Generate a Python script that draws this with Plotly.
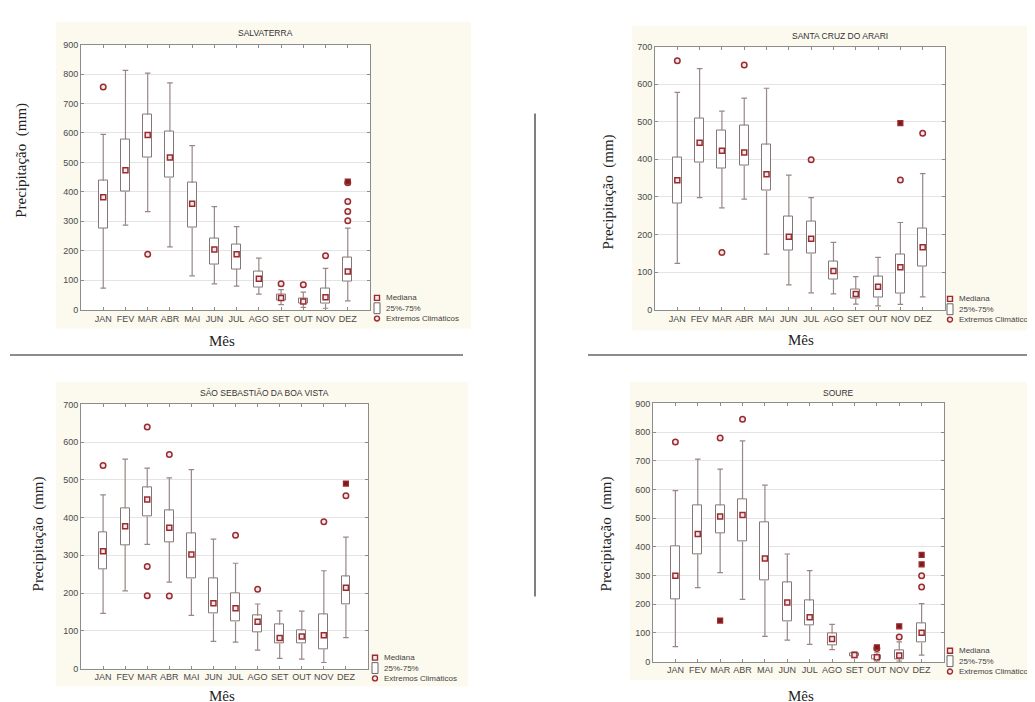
import plotly.graph_objects as go

MONTHS = ["JAN", "FEV", "MAR", "ABR", "MAI", "JUN", "JUL", "AGO", "SET", "OUT", "NOV", "DEZ"]

# ---------------- SALVATERRA ----------------
SALV_MED = [382, 473, 593, 517, 360, 204, 188, 105, 40, 28, 42, 130]
SALV_Q1 = [277, 400, 517, 447, 278, 154, 138, 76, 32, 20, 20, 97]
SALV_Q3 = [437, 578, 662, 606, 430, 242, 222, 130, 50, 37, 72, 177]
SALV_MIN = [73, 287, 333, 213, 115, 88, 80, 53, 17, 8, 5, 30]
SALV_MAX = [595, 812, 803, 770, 557, 350, 282, 175, 68, 60, 140, 277]
SALV_OUT_M = ["JAN", "MAR", "SET", "OUT", "NOV", "DEZ", "DEZ", "DEZ", "DEZ"]
SALV_OUT_V = [756, 188, 88, 85, 183, 431, 367, 333, 302]
SALV_EXT_M = ["DEZ"]
SALV_EXT_V = [435]

# ---------------- SANTA CRUZ DO ARARI ----------------
SCA_MED = [344, 444, 423, 418, 360, 194, 189, 103, 42, 61, 113, 166]
SCA_Q1 = [283, 391, 376, 383, 316, 158, 149, 81, 30, 32, 43, 115]
SCA_Q3 = [405, 509, 477, 490, 439, 247, 235, 128, 55, 88, 148, 217]
SCA_MIN = [123, 298, 271, 294, 148, 66, 45, 42, 15, 10, 14, 34]
SCA_MAX = [578, 641, 528, 563, 589, 358, 298, 179, 88, 139, 232, 362]
SCA_OUT_M = ["JAN", "MAR", "ABR", "JUL", "NOV", "DEZ"]
SCA_OUT_V = [662, 152, 651, 399, 345, 469]
SCA_EXT_M = ["NOV"]
SCA_EXT_V = [496]

# ---------------- SÃO SEBASTIÃO DA BOA VISTA ----------------
SSB_MED = [311, 377, 448, 373, 302, 173, 160, 124, 81, 85, 88, 214]
SSB_Q1 = [263, 327, 403, 335, 238, 146, 124, 97, 66, 66, 51, 169]
SSB_Q3 = [362, 425, 479, 419, 358, 239, 200, 140, 116, 101, 143, 243]
SSB_MIN = [146, 206, 329, 229, 141, 72, 70, 49, 27, 25, 16, 82]
SSB_MAX = [460, 555, 531, 505, 527, 343, 279, 171, 153, 152, 259, 348]
SSB_OUT_M = ["JAN", "MAR", "MAR", "MAR", "ABR", "ABR", "JUL", "AGO", "NOV", "DEZ"]
SSB_OUT_V = [538, 640, 270, 193, 567, 192, 353, 210, 389, 458]
SSB_EXT_M = ["DEZ"]
SSB_EXT_V = [490]

# ---------------- SOURE ----------------
SOU_MED = [299, 445, 506, 511, 359, 206, 155, 79, 23, 15, 21, 101]
SOU_Q1 = [218, 374, 448, 419, 283, 140, 127, 58, 17, 7, 9, 66]
SOU_Q3 = [403, 545, 544, 567, 487, 275, 212, 97, 29, 23, 40, 134]
SOU_MIN = [52, 258, 310, 217, 88, 75, 60, 42, 14, 2, 2, 23]
SOU_MAX = [596, 706, 671, 769, 615, 375, 317, 130, 34, 31, 69, 202]
SOU_OUT_M = ["JAN", "MAR", "ABR", "OUT", "NOV", "DEZ", "DEZ"]
SOU_OUT_V = [765, 779, 845, 46, 86, 299, 260]
SOU_EXT_M = ["MAR", "OUT", "NOV", "DEZ", "DEZ"]
SOU_EXT_V = [143, 50, 123, 372, 339]

TITLES = ["SALVATERRA", "SANTA CRUZ DO ARARI", "SÃO SEBASTIÃO DA BOA VISTA", "SOURE"]
Y_MAX = [900, 700, 700, 900]
LEG_LABELS = ["Mediana", "25%-75%", "Extremos Climáticos"]

STATIONS = [
    (SALV_MED, SALV_Q1, SALV_Q3, SALV_MIN, SALV_MAX, SALV_OUT_M, SALV_OUT_V, SALV_EXT_M, SALV_EXT_V),
    (SCA_MED, SCA_Q1, SCA_Q3, SCA_MIN, SCA_MAX, SCA_OUT_M, SCA_OUT_V, SCA_EXT_M, SCA_EXT_V),
    (SSB_MED, SSB_Q1, SSB_Q3, SSB_MIN, SSB_MAX, SSB_OUT_M, SSB_OUT_V, SSB_EXT_M, SSB_EXT_V),
    (SOU_MED, SOU_Q1, SOU_Q3, SOU_MIN, SOU_MAX, SOU_OUT_M, SOU_OUT_V, SOU_EXT_M, SOU_EXT_V),
]

W, H = 1035, 702

# layout geometry in pixels (page layout, not data)
GEOM = [
    dict(plot=(73, 362, 32, 301), bg=(48, 463, 9, 320), title=(257, 20), ylab=(14, 150),
         xlab=(214, 333), leg=(369, 376, 289)),
    dict(plot=(647, 937, 34, 301), bg=(624, 1035, 13, 322), title=(832, 23), ylab=(600, 182),
         xlab=(793, 332), leg=(942, 949, 290)),
    dict(plot=(73, 360, 397, 665), bg=(48, 460, 374, 683), title=(256, 385), ylab=(30, 529),
         xlab=(214, 693), leg=(367, 374, 654)),
    dict(plot=(645, 936, 396, 658), bg=(622, 1035, 374, 677), title=(830, 385), ylab=(598, 529),
         xlab=(793, 693), leg=(942, 949, 647)),
]


def px(x):
    return x / W


def py(y):
    return 1 - y / H


RED = "#9b2b30"
DARKRED = "#7d1a1c"
WHISK = "#9a8686"
BOXLINE = "#857777"
AXLINE = "#8c8c8c"
BG = "#fcf9ee"

fig = go.Figure()
shapes = []
annotations = []
layout_axes = {}

for i, (st, g) in enumerate(zip(STATIONS, GEOM)):
    med, q1, q3, lo, hi, om, ov, em, ev = st
    n = i + 1
    xa = "x" if n == 1 else f"x{n}"
    ya = "y" if n == 1 else f"y{n}"
    x0, x1, y0, y1 = g["plot"]

    # whiskers
    wx, wy = [], []
    for m, a, b, c, d in zip(MONTHS, lo, q1, q3, hi):
        wx += [m, m, None, m, m, None]
        wy += [a, b, None, c, d, None]
    fig.add_trace(go.Scatter(x=wx, y=wy, mode="lines", line=dict(color=WHISK, width=1.2),
                             xaxis=xa, yaxis=ya, showlegend=False, hoverinfo="skip"))
    # caps
    fig.add_trace(go.Scatter(x=MONTHS + MONTHS, y=lo + hi, mode="markers",
                             marker=dict(symbol="line-ew", size=4, line=dict(color=WHISK, width=1.2)),
                             xaxis=xa, yaxis=ya, showlegend=False, hoverinfo="skip"))
    # boxes
    fig.add_trace(go.Bar(x=MONTHS, y=[b - a for a, b in zip(q1, q3)], base=q1, width=0.4,
                         marker=dict(color="white", line=dict(color=BOXLINE, width=1)),
                         xaxis=xa, yaxis=ya, showlegend=False))
    # medians
    fig.add_trace(go.Scatter(x=MONTHS, y=med, mode="markers",
                             marker=dict(symbol="square", size=5, color="#f3e9e9",
                                         line=dict(color=RED, width=1.5)),
                             xaxis=xa, yaxis=ya, showlegend=False))
    # outliers
    fig.add_trace(go.Scatter(x=om, y=ov, mode="markers",
                             marker=dict(symbol="circle", size=5.5, color="#f3e9e9",
                                         line=dict(color=RED, width=1.5)),
                             xaxis=xa, yaxis=ya, showlegend=False))
    # extremes
    fig.add_trace(go.Scatter(x=em, y=ev, mode="markers",
                             marker=dict(symbol="square", size=5, color=DARKRED,
                                         line=dict(color=RED, width=1.2)),
                             xaxis=xa, yaxis=ya, showlegend=False))

    tick_font = dict(family="Liberation Sans, Arial", size=9, color="#4a4a4a")
    layout_axes["xaxis" if n == 1 else f"xaxis{n}"] = dict(
        domain=[px(x0), px(x1)], anchor=ya, type="category", categoryorder="array",
        categoryarray=MONTHS, range=[-1, 12], showline=True, linecolor=AXLINE, linewidth=1,
        mirror="ticks", ticks="inside", ticklen=3, tickcolor=AXLINE, showgrid=False,
        tickangle=0, tickfont=tick_font, fixedrange=True)
    layout_axes["yaxis" if n == 1 else f"yaxis{n}"] = dict(
        domain=[py(y1), py(y0)], anchor=xa, range=[0, Y_MAX[i]], dtick=100,
        showline=True, linecolor=AXLINE, linewidth=1, mirror="ticks", ticks="inside",
        ticklen=3, tickcolor=AXLINE, showgrid=True, gridcolor="#e4e4e4", zeroline=False,
        tickfont=tick_font, fixedrange=True)

    # beige panel background
    bx0, bx1, by0, by1 = g["bg"]
    shapes.append(dict(type="rect", xref="paper", yref="paper", x0=px(bx0), x1=px(bx1),
                       y0=py(by1), y1=py(by0), fillcolor=BG, line=dict(width=0), layer="below"))
    # white plot area
    shapes.append(dict(type="rect", xref="paper", yref="paper", x0=px(x0), x1=px(x1),
                       y0=py(y1), y1=py(y0), fillcolor="white", line=dict(width=0), layer="below"))

    # title
    tx, ty = g["title"]
    annotations.append(dict(text=TITLES[i], x=px(tx), y=py(ty), xref="paper", yref="paper",
                            showarrow=False, xanchor="center", yanchor="middle",
                            font=dict(family="Liberation Sans, Arial", size=8.5, color="#333")))
    # y label
    lx, ly = g["ylab"]
    annotations.append(dict(text="Precipitação  (mm)", x=px(lx), y=py(ly), xref="paper",
                            yref="paper", showarrow=False, textangle=-90, xanchor="center",
                            yanchor="middle",
                            font=dict(family="Liberation Serif, Times New Roman", size=15,
                                      color="#222")))
    # x label
    mx, my = g["xlab"]
    annotations.append(dict(text="Mês", x=px(mx), y=py(my), xref="paper", yref="paper",
                            showarrow=False, xanchor="center", yanchor="middle",
                            font=dict(family="Liberation Serif, Times New Roman", size=15,
                                      color="#222")))
    # legend (manual)
    sx, tx2, ly0 = g["leg"]
    step = 10.5
    shapes.append(dict(type="rect", xref="paper", yref="paper", x0=px(sx - 2.5), x1=px(sx + 2.5),
                       y0=py(ly0 + 2.5), y1=py(ly0 - 2.5), fillcolor="#f3e9e9",
                       line=dict(color=RED, width=1.4)))
    shapes.append(dict(type="rect", xref="paper", yref="paper", x0=px(sx - 3), x1=px(sx + 3),
                       y0=py(ly0 + step + 5.5), y1=py(ly0 + step - 5.5), fillcolor="white",
                       line=dict(color="#666", width=1)))
    shapes.append(dict(type="circle", xref="paper", yref="paper", x0=px(sx - 2.5),
                       x1=px(sx + 2.5), y0=py(ly0 + 2 * step + 2.5), y1=py(ly0 + 2 * step - 2.5),
                       fillcolor="#f3e9e9", line=dict(color=RED, width=1.4)))
    for k, lab in enumerate(LEG_LABELS):
        annotations.append(dict(text=lab, x=px(tx2), y=py(ly0 + k * step), xref="paper",
                                yref="paper", showarrow=False, xanchor="left", yanchor="middle",
                                font=dict(family="Liberation Sans, Arial", size=8,
                                          color="#444")))

# separator lines
shapes.append(dict(type="line", xref="paper", yref="paper", x0=px(2), x1=px(455),
                   y0=py(347), y1=py(347), line=dict(color="#666", width=1.5)))
shapes.append(dict(type="line", xref="paper", yref="paper", x0=px(580), x1=px(1025),
                   y0=py(347), y1=py(347), line=dict(color="#666", width=1.5)))
shapes.append(dict(type="line", xref="paper", yref="paper", x0=px(527), x1=px(527),
                   y0=py(102), y1=py(592), line=dict(color="#555", width=1.5)))

fig.update_layout(width=W, height=H, margin=dict(l=0, r=0, t=0, b=0),
                  paper_bgcolor="white", plot_bgcolor="rgba(0,0,0,0)",
                  shapes=shapes, annotations=annotations, showlegend=False,
                  bargap=0, **layout_axes)

fig.write_html("out.html")
